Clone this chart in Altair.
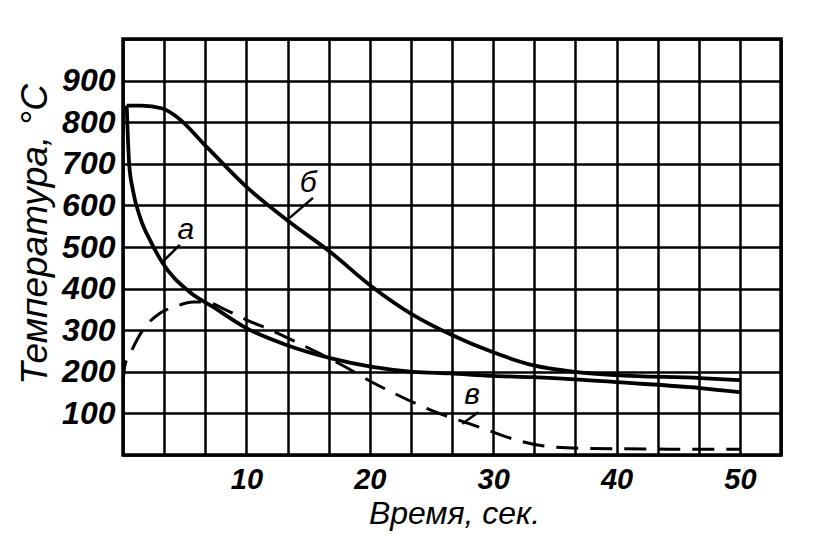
import altair as alt
import pandas as pd

# ---- data ----
# curve "а" (solid)
a_time = [0.3, 0.5, 0.8, 1.4, 2.3, 3.2, 5.4, 7.3, 10.0, 13.3, 16.8, 20.2, 23.5, 26.5, 30.0, 33.2, 36.6, 40.0, 46.8, 50.0]
a_temp = [840, 700, 637, 570, 510, 462, 392, 356, 305, 264, 233, 212, 200, 196, 190, 187, 182, 175, 161, 151]
# curve "б" (solid)
b_time = [0.3, 1.5, 3.2, 4.4, 6.8, 10.1, 13.5, 16.8, 20.2, 23.5, 26.7, 29.9, 33.2, 36.6, 40.0, 46.8, 50.0]
b_temp = [840, 840, 833, 812, 740, 642, 560, 488, 404, 337, 288, 248, 216, 200, 192, 185, 180]
# curve "в" (dashed)
v_time = [0.0, 0.15, 0.6, 1.6, 3.0, 4.1, 5.7, 7.0, 8.1, 10.0, 12.0, 14.0, 16.0, 18.0, 20.0, 22.0, 24.0, 26.0, 28.0, 30.0, 32.0, 34.0, 37.0, 40.0, 45.0, 50.0]
v_temp = [175, 215, 245, 300, 341, 355, 368, 366, 352, 325, 300, 272, 243, 212, 178, 148, 120, 96, 76, 55, 35, 22, 16, 15, 14, 14]

# curve labels and their leader lines
label_text = ["а", "б", "в"]
label_time = [5.1, 15.0, 28.3]
label_temp = [541, 654, 144]
lead_t1 = [3.2, 13.5, 27.5]
lead_y1 = [464, 570, 75]
lead_t2 = [4.6, 15.4, 28.8]
lead_y2 = [505, 618, 103]

# axis grid / tick values
x_grid = [k * 10 / 3 for k in range(17)]
y_grid = list(range(0, 1001, 100))

solid = pd.DataFrame(
    {"t": a_time + b_time,
     "T": a_temp + b_temp,
     "c": ["а"] * len(a_time) + ["б"] * len(b_time)}
)
dashed = pd.DataFrame({"t": v_time, "T": v_temp})
labels = pd.DataFrame({"t": label_time, "T": label_temp, "txt": label_text})
leaders = pd.DataFrame({"t": lead_t1, "T": lead_y1, "t2": lead_t2, "T2": lead_y2})

xscale = alt.Scale(domain=[0, 160 / 3], nice=False, zero=False)
yscale = alt.Scale(domain=[0, 1000], nice=False)

xaxis = alt.Axis(
    values=x_grid,
    labelExpr="abs(datum.value - 10*round(datum.value/10)) < 0.01 && datum.value > 5 ? format(datum.value, '.0f') : ''",
    title="Время, сек.",
    titleFont="Liberation Sans", titleFontStyle="italic", titleFontWeight="normal",
    titleFontSize=32, titleX=331, titleY=58, titleBaseline="middle", titleAlign="center",
    labelFont="'Liberation Sans Narrow', 'Liberation Sans'", labelFontStyle="italic",
    labelFontWeight="bold", labelFontSize=29, labelPadding=10, labelBaseline="top",
    labelOverlap=False, labelFlush=False,
)
yaxis = alt.Axis(
    values=y_grid,
    labelExpr="datum.value >= 100 && datum.value <= 900 ? '' + datum.value : ''",
    title="Температура, °С",
    titleFont="Liberation Sans", titleFontStyle="italic", titleFontWeight="normal",
    titleFontSize=37, titleX=-88, titleY=195, titleBaseline="middle", titleAlign="center",
    labelFont="Liberation Sans", labelFontStyle="italic", labelFontWeight="bold",
    labelFontSize=32, labelPadding=8, labelOverlap=False, labelFlush=False,
)

base_x = alt.X("t:Q", scale=xscale, axis=xaxis)
base_y = alt.Y("T:Q", scale=yscale, axis=yaxis)

solid_lines = alt.Chart(solid).mark_line(
    color="black", strokeWidth=3.8, interpolate="monotone"
).encode(x=base_x, y=base_y, detail="c:N")

dashed_line = alt.Chart(dashed).mark_line(
    color="black", strokeWidth=3, interpolate="monotone", strokeDash=[22, 12]
).encode(x="t:Q", y="T:Q")

lead = alt.Chart(leaders).mark_rule(color="black", strokeWidth=2.5).encode(
    x="t:Q", y="T:Q", x2="t2:Q", y2="T2:Q"
)

txt = alt.Chart(labels).mark_text(
    font="Liberation Sans", fontStyle="italic", fontSize=30, color="black",
    align="center", baseline="middle"
).encode(x="t:Q", y="T:Q", text="txt:N")

chart = (
    alt.layer(solid_lines, dashed_line, lead, txt)
    .properties(
        width=658, height=416,
        autosize=alt.AutoSizeParams(type="none"),
        padding={"left": 115, "top": 31, "right": 24, "bottom": 78},
        background="white",
    )
    .configure_view(stroke="black", strokeWidth=3.5)
    .configure_axis(
        grid=True, gridColor="black", gridWidth=2.5, gridOpacity=1,
        domain=False, ticks=False, labelColor="black", titleColor="black",
    )
)

chart.save("out.html", embed_options={"renderer": "svg", "actions": False})
